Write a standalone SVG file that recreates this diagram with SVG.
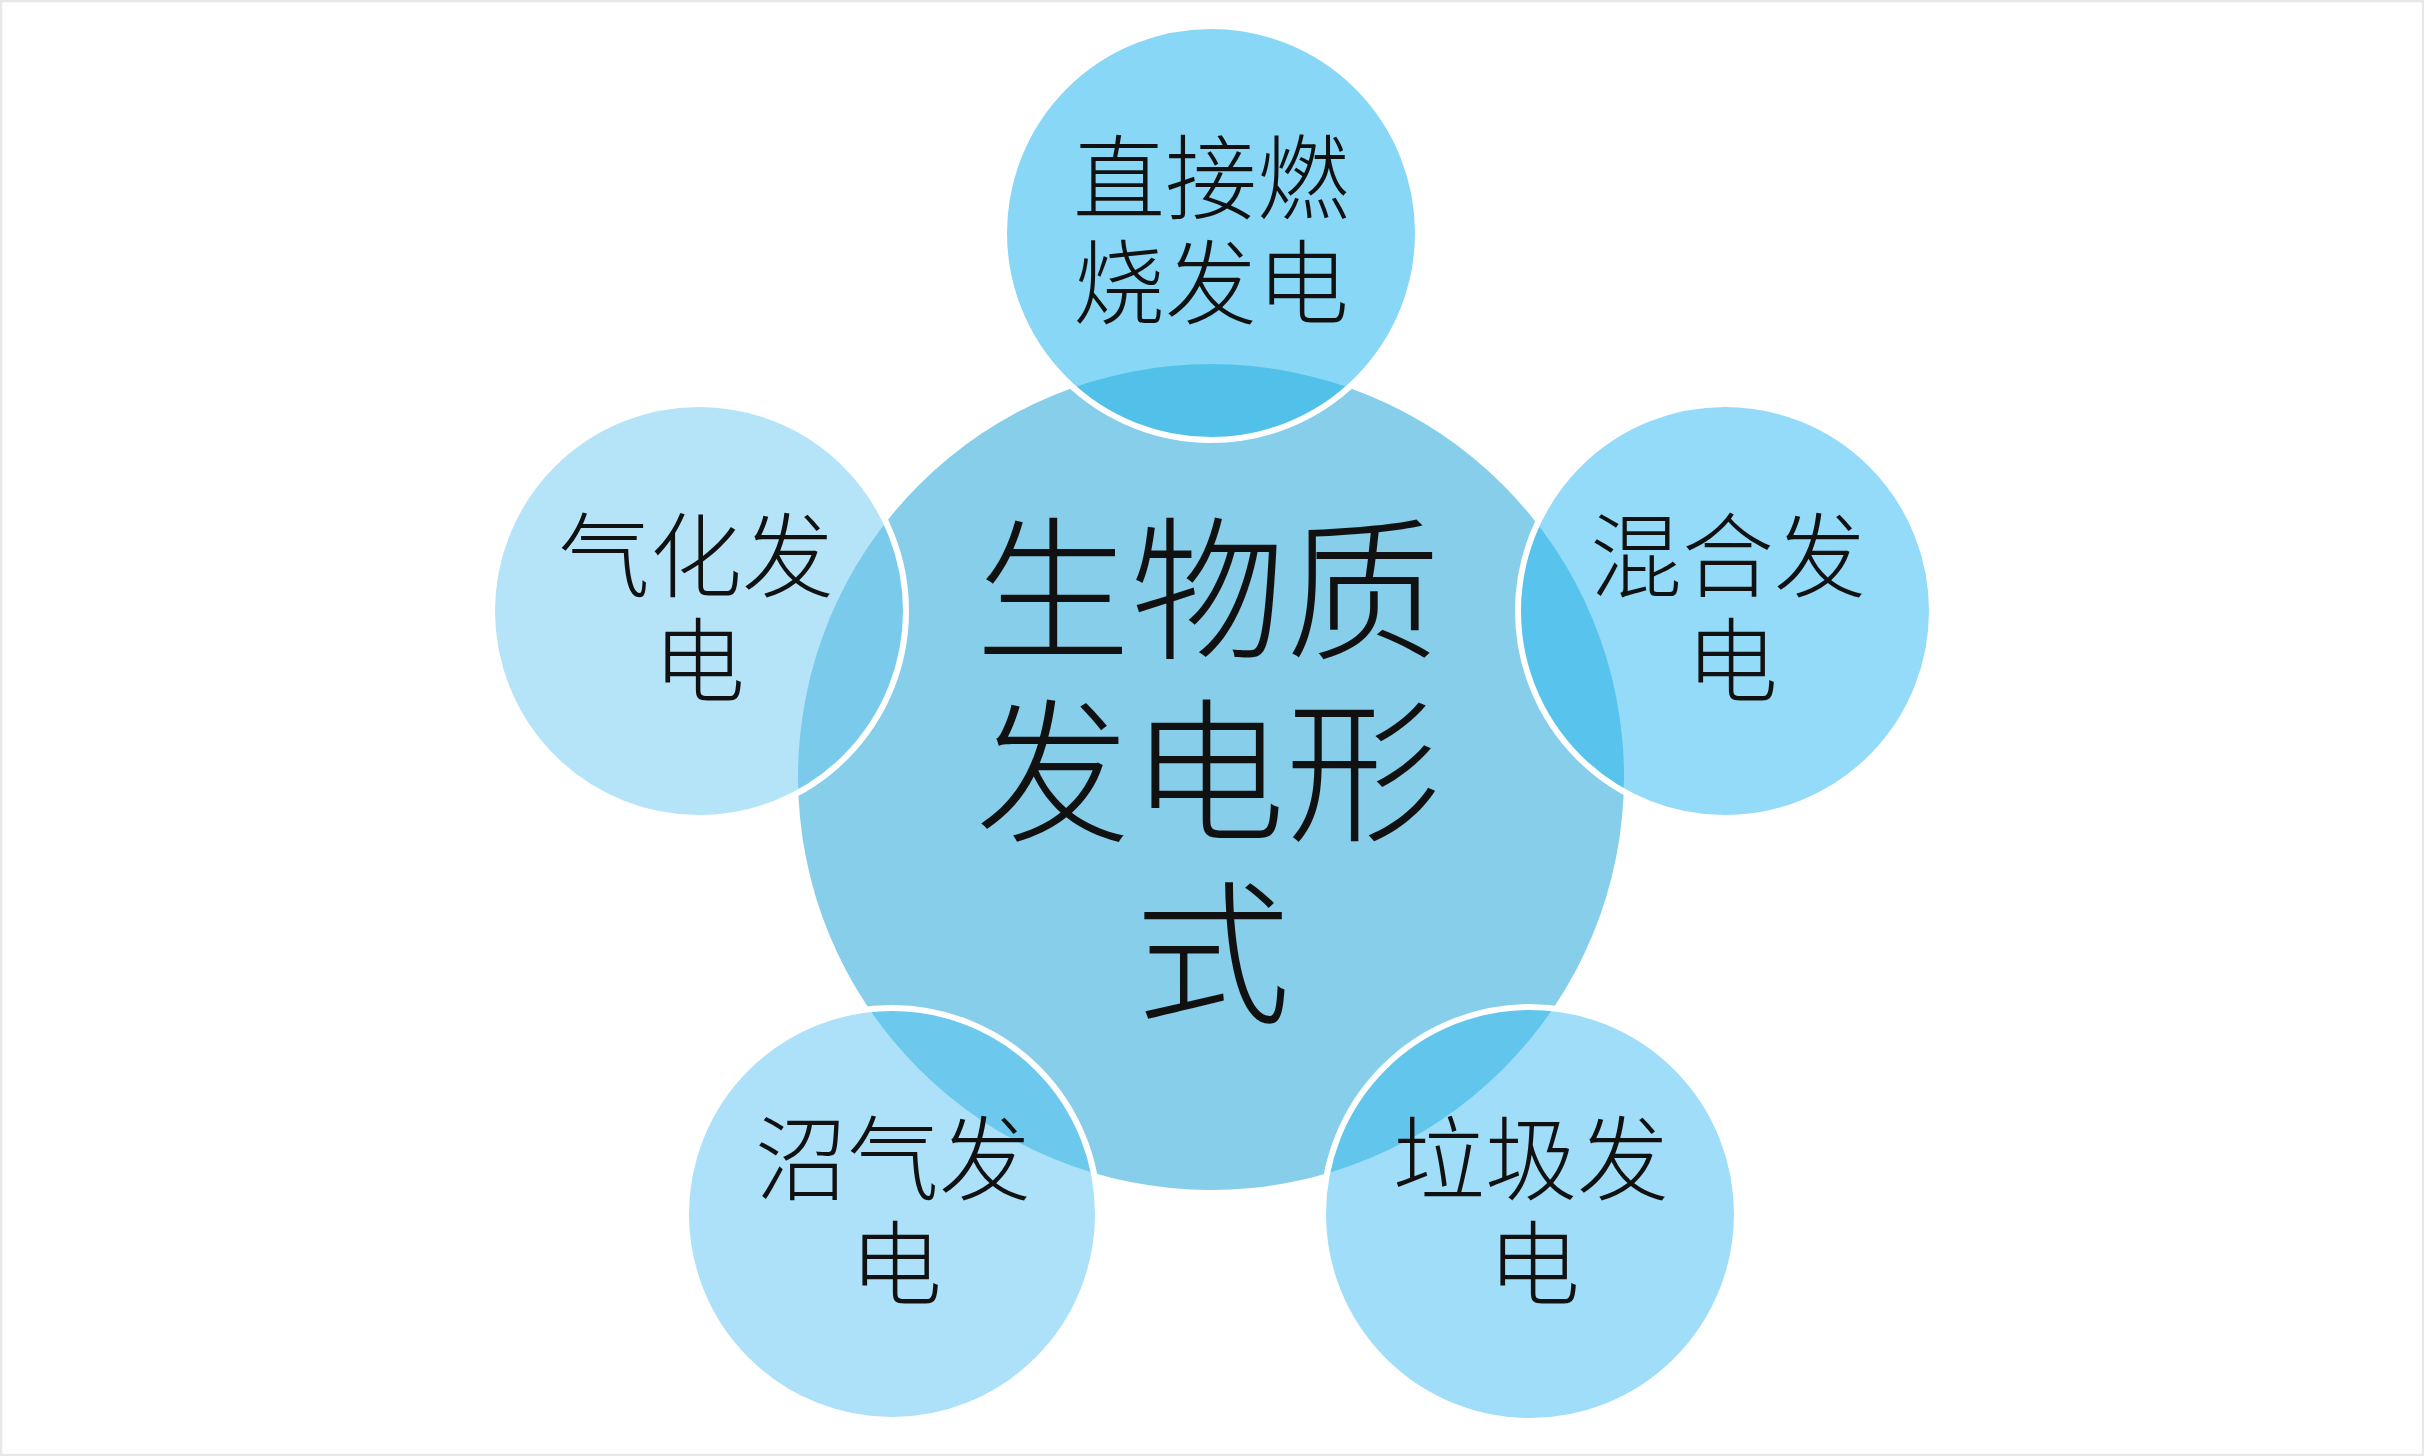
<svg xmlns="http://www.w3.org/2000/svg" width="2424" height="1456" viewBox="0 0 2424 1456">
  <style>
    .bg { fill: #ffffff; }
    .frame { fill: none; stroke: #e8e8e8; stroke-width: 2.5; }
    .ring { fill: none; stroke: #ffffff; stroke-width: 6; }
    .lbl { font-family: "Noto Sans CJK SC", "Noto Sans CJK TC", sans-serif; font-weight: 300; fill: #111111; text-anchor: middle; }
    .sat { font-size: 92px; }
    .main { font-size: 155px; }
  </style>
  <defs>
    <clipPath id="clipCenter">
      <circle cx="1211" cy="777" r="413"/>
    </clipPath>
  </defs>
  <rect class="bg" x="0" y="0" width="2424" height="1456"/>
  <rect class="frame" x="1" y="1" width="2422" height="1454"/>

  <g id="center-node">
    <circle cx="1211" cy="777" r="413" fill="#87CEEB"/>
    <text class="lbl main"><tspan x="1208" y="647">生物质</tspan><tspan x="1208" y="829">发电形</tspan><tspan x="1213" y="1011">式</tspan></text>
  </g>

  <g id="connectors"></g>

  <g id="node-direct-combustion">
    <circle cx="1211" cy="233" r="207" fill="#89D7F6"/>
    <circle cx="1211" cy="233" r="207" fill="#52C1EA" clip-path="url(#clipCenter)"/>
    <circle class="ring" cx="1211" cy="233" r="207"/>
    <text class="lbl sat"><tspan x="1211" y="212">直接燃</tspan><tspan x="1211" y="317">烧发电</tspan></text>
  </g>

  <g id="node-gasification">
    <circle cx="699" cy="611" r="207" fill="#B5E4F9"/>
    <circle cx="699" cy="611" r="207" fill="#7ACAEC" clip-path="url(#clipCenter)"/>
    <circle class="ring" cx="699" cy="611" r="207"/>
    <text class="lbl sat"><tspan x="696" y="590">气化发</tspan><tspan x="699" y="695">电</tspan></text>
  </g>

  <g id="node-hybrid">
    <circle cx="1725" cy="611" r="207" fill="#93DBF8"/>
    <circle cx="1725" cy="611" r="207" fill="#58C3EC" clip-path="url(#clipCenter)"/>
    <circle class="ring" cx="1725" cy="611" r="207"/>
    <text class="lbl sat"><tspan x="1728" y="590">混合发</tspan><tspan x="1732" y="695">电</tspan></text>
  </g>

  <g id="node-biogas">
    <circle cx="892" cy="1214" r="206" fill="#ADE1F9"/>
    <circle cx="892" cy="1214" r="206" fill="#6CC8ED" clip-path="url(#clipCenter)"/>
    <circle class="ring" cx="892" cy="1214" r="206"/>
    <text class="lbl sat"><tspan x="893" y="1193">沼气发</tspan><tspan x="896" y="1298">电</tspan></text>
  </g>

  <g id="node-waste">
    <circle cx="1530" cy="1214" r="207" fill="#A0DDF8"/>
    <circle cx="1530" cy="1214" r="207" fill="#61C5EC" clip-path="url(#clipCenter)"/>
    <circle class="ring" cx="1530" cy="1214" r="207"/>
    <text class="lbl sat"><tspan x="1531" y="1193">垃圾发</tspan><tspan x="1534" y="1298">电</tspan></text>
  </g>
</svg>
